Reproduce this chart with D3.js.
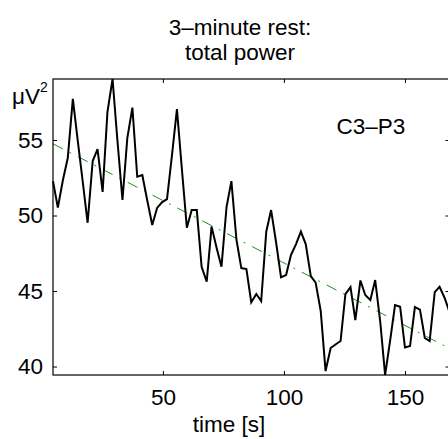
<!DOCTYPE html>
<html>
<head>
<meta charset="utf-8">
<script src="https://cdn.jsdelivr.net/npm/d3@7"></script>
<style>
body{margin:0;background:#fff;}
text{font-family:"Liberation Sans",Arial,Helvetica,sans-serif;fill:#000;}
</style>
</head>
<body>
<div id="chart"></div>
<script>
// time of each window [s]
var time = [4.6,6.6,8.7,10.7,12.8,14.8,16.9,18.9,21.0,23.0,25.1,27.1,29.2,31.2,33.3,35.3,37.4,39.4,41.5,43.5,
  45.6,47.6,49.7,51.7,53.8,55.8,57.8,59.9,61.9,64.0,66.0,68.1,70.1,72.2,74.2,76.3,78.3,80.4,82.4,84.5,
  86.5,88.6,90.6,92.7,94.7,96.8,98.8,100.9,102.9,105.0,107.0,109.0,111.1,113.1,115.2,117.2,119.3,121.3,123.4,125.4,
  127.5,129.5,131.6,133.6,135.7,137.7,139.8,141.8,143.9,145.9,148.0,150.0,152.1,154.1,156.2,158.2,160.2,162.3,164.3,166.4,168.4];
// total power C3-P3 [uV^2]
var power = [52.28,50.52,52.35,53.81,57.72,55.00,52.22,49.52,53.61,54.40,51.56,56.87,59.04,55.00,51.03,55.13,57.15,52.57,52.68,51.03,
  49.37,50.50,50.89,51.09,54.07,57.05,53.15,49.19,50.36,50.36,46.61,45.62,49.27,47.85,46.61,50.58,52.28,48.38,46.52,46.46,
  44.25,44.80,44.34,48.93,50.36,48.18,45.91,46.06,47.38,48.11,48.94,48.11,45.99,45.56,43.68,39.70,41.23,41.46,41.69,44.80,
  45.26,43.08,45.70,44.74,44.40,45.73,42.95,39.44,41.75,44.07,43.96,41.26,41.36,43.94,43.77,41.89,41.69,44.93,45.28,44.54,43.61];
// linear trend end values
var trendValues = [54.75,41.2];
var xTicks = [50,100,150];
var yTicks = [40,45,50,55];
var titleLines = ["3\u2013minute rest:","total power"];
var channel = "C3\u2013P3";

var w = 448, h = 439;
var axLeft = 53, axRight = 449.5, axTop = 79, axBottom = 375;
var fs = 22.5;

var svg = d3.select("#chart").append("svg")
  .attr("width", w)
  .attr("height", h);

var x = d3.scaleLinear().domain(d3.extent(time)).range([axLeft, axRight]);
var y = d3.scaleLinear().domain(d3.extent(power)).range([axBottom, axTop]);

var data = time.map(function(t,i){return [t,power[i]];});
var line = d3.line().x(function(d){return x(d[0]);}).y(function(d){return y(d[1]);});

// trend line
svg.append("path")
  .datum([[time[0],trendValues[0]],[time[time.length-1],trendValues[1]]])
  .attr("d", line)
  .attr("fill","none")
  .attr("stroke","#1f901f")
  .attr("stroke-width",1)
  .attr("stroke-dasharray","11,7.5,2,7.5");

// power line
svg.append("path")
  .datum(data)
  .attr("d", line)
  .attr("fill","none")
  .attr("stroke","#000")
  .attr("stroke-width",2)
  .attr("stroke-linejoin","miter");

// axes box with inward ticks
var tl = 4;
svg.append("g").attr("transform","translate(0,"+axBottom+")")
  .call(d3.axisBottom(x).tickValues(xTicks).tickSizeInner(-tl).tickSizeOuter(0).tickPadding(10))
  .call(function(g){g.selectAll("text").attr("font-size",fs).attr("dy","0.9em");});
svg.append("g").attr("transform","translate(0,"+axTop+")")
  .call(d3.axisTop(x).tickValues(xTicks).tickSizeInner(-tl).tickSizeOuter(0).tickFormat(""));
svg.append("g").attr("transform","translate("+axLeft+",0)")
  .call(d3.axisLeft(y).tickValues(yTicks).tickSizeInner(-tl).tickSizeOuter(0).tickPadding(10))
  .call(function(g){g.selectAll("text").attr("font-size",fs);});
svg.append("g").attr("transform","translate("+axRight+",0)")
  .call(d3.axisRight(y).tickValues(yTicks).tickSizeInner(-tl).tickSizeOuter(0).tickFormat(""));

svg.selectAll(".domain").remove();
svg.selectAll(".tick line").attr("stroke","#000");
svg.selectAll(".tick text").attr("font-family",null).attr("fill","#000");

svg.append("rect")
  .attr("x",axLeft).attr("y",axTop)
  .attr("width",axRight-axLeft).attr("height",axBottom-axTop)
  .attr("fill","none").attr("stroke","#000").attr("stroke-width",1.2);

// title
svg.selectAll(".title")
  .data(titleLines)
  .enter()
  .append("text")
  .attr("class","title")
  .attr("x",240)
  .attr("y",function(d,i){return 35+i*25;})
  .attr("text-anchor","middle")
  .attr("font-size",fs)
  .text(String);

svg.append("text")
  .attr("x",229)
  .attr("y",432)
  .attr("text-anchor","middle")
  .attr("font-size",fs)
  .text("time [s]");

svg.append("text")
  .attr("x",336.5)
  .attr("y",133.5)
  .attr("font-size",fs)
  .text(channel);

var unit = svg.append("text")
  .attr("x",12)
  .attr("y",104)
  .attr("font-size",fs)
  .text("\u03bcV");
unit.append("tspan")
  .attr("font-size",14)
  .attr("dy",-12)
  .text("2");
</script>
</body>
</html>
